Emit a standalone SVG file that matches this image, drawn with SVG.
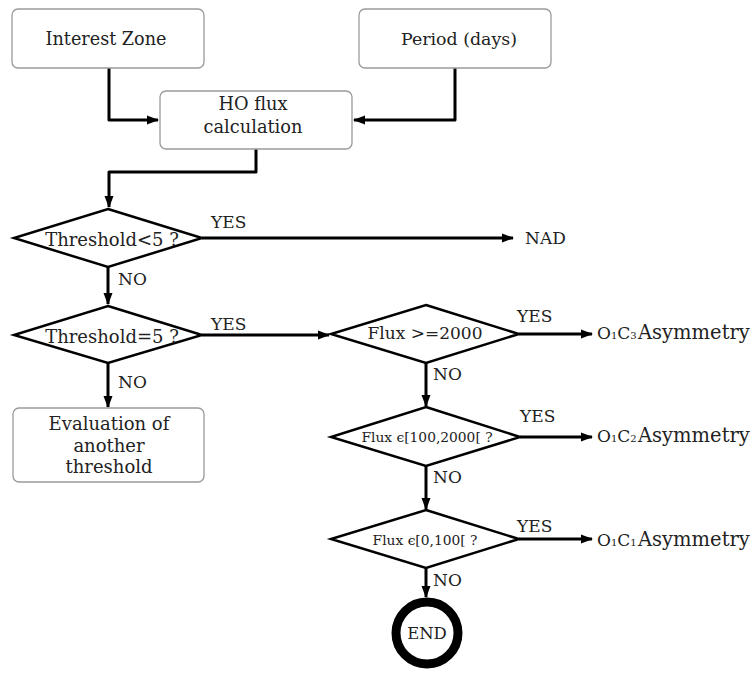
<svg xmlns="http://www.w3.org/2000/svg" width="752" height="673" viewBox="0 0 752 673">
<defs>
<style>
.box{fill:#fff;stroke:#9a9a9a;stroke-width:1.3}
.dia{fill:#fff;stroke:#000;stroke-width:2.5;stroke-linejoin:miter}
.t{font-family:"DejaVu Serif","Liberation Serif",serif;fill:#222;text-anchor:middle}
.lbl{font-family:"DejaVu Serif","Liberation Serif",serif;fill:#222;font-size:17px}
.con{fill:none;stroke:#000;stroke-width:3;stroke-linejoin:round}
</style>
<marker id="ah" markerUnits="userSpaceOnUse" markerWidth="12" markerHeight="10" refX="11" refY="5" orient="auto">
<path d="M0,0.5 L12,5 L0,9.5 z" fill="#000"/>
</marker>
</defs>
<rect width="752" height="673" fill="#fff"/>

<g id="connectors">
<path class="con" d="M109,68 V120 H158" marker-end="url(#ah)"/>
<path class="con" d="M455,68 V120 H354" marker-end="url(#ah)"/>
<path class="con" d="M256,149 V172 H109 V207" marker-end="url(#ah)"/>
<path class="con" d="M202,238 H513" marker-end="url(#ah)"/>
<path class="con" d="M108,267 V304" marker-end="url(#ah)"/>
<path class="con" d="M202,335 H329" marker-end="url(#ah)"/>
<path class="con" d="M108,363 V407" marker-end="url(#ah)"/>
<path class="con" d="M519,334 H592" marker-end="url(#ah)"/>
<path class="con" d="M426,363 V406" marker-end="url(#ah)"/>
<path class="con" d="M520,437 H592" marker-end="url(#ah)"/>
<path class="con" d="M426,466 V509" marker-end="url(#ah)"/>
<path class="con" d="M519,539 H592" marker-end="url(#ah)"/>
<path class="con" d="M426,568 V597" marker-end="url(#ah)"/>
<text class="lbl" x="211" y="228">YES</text>
<text class="lbl" x="118" y="285">NO</text>
<text class="lbl" x="211" y="330">YES</text>
<text class="lbl" x="118" y="388">NO</text>
<text class="lbl" x="517" y="322">YES</text>
<text class="lbl" x="433" y="380">NO</text>
<text class="lbl" x="520" y="422">YES</text>
<text class="lbl" x="433" y="483">NO</text>
<text class="lbl" x="517" y="532">YES</text>
<text class="lbl" x="433" y="586">NO</text>
</g>

<g id="interest-zone">
<rect class="box" x="12" y="9" width="192" height="59" rx="6"/>
<text class="t" x="106" y="45" font-size="17.6">Interest Zone</text>
</g>

<g id="period">
<rect class="box" x="359" y="9" width="192" height="59" rx="6"/>
<text class="t" x="459" y="45" font-size="17.4">Period (days)</text>
</g>

<g id="ho-flux">
<rect class="box" x="160" y="91" width="192" height="58" rx="6"/>
<text class="t" x="253" y="110" font-size="17.8">HO flux</text>
<text class="t" x="253" y="133" font-size="17.8">calculation</text>
</g>

<g id="threshold-lt5">
<polygon class="dia" points="108,209 202,238 108,267 14,238"/>
<text class="t" x="112" y="246" font-size="18">Threshold&lt;5 ?</text>
</g>

<g id="nad">
<text class="lbl" x="525" y="244">NAD</text>
</g>

<g id="threshold-eq5">
<polygon class="dia" points="108,306 202,335 108,363 14,335"/>
<text class="t" x="112" y="343" font-size="18">Threshold=5 ?</text>
</g>

<g id="evaluation">
<rect class="box" x="13" y="408" width="191" height="74" rx="6"/>
<text class="t" x="109" y="430" font-size="18">Evaluation of</text>
<text class="t" x="109" y="452" font-size="18">another</text>
<text class="t" x="109" y="473" font-size="18">threshold</text>
</g>

<g id="flux-ge2000">
<polygon class="dia" points="426,305 519,334 426,363 331,334"/>
<text class="t" x="425" y="339" font-size="17">Flux &gt;=2000</text>
</g>

<g id="o1c3">
<text class="lbl" x="597" y="339" font-size="14.5">O<tspan font-size="10">1</tspan>C<tspan font-size="10">3</tspan><tspan x="638" font-size="19.5">Asymmetry</tspan></text>
</g>

<g id="flux-100-2000">
<polygon class="dia" points="426,407 520,437 426,466 331,437"/>
<text class="t" x="427" y="442" font-size="13.8">Flux ϵ[100,2000[ ?</text>
</g>

<g id="o1c2">
<text class="lbl" x="597" y="442" font-size="14.5">O<tspan font-size="10">1</tspan>C<tspan font-size="10">2</tspan><tspan x="638" font-size="19.5">Asymmetry</tspan></text>
</g>

<g id="flux-0-100">
<polygon class="dia" points="426,510 519,539 426,568 331,539"/>
<text class="t" x="425" y="545" font-size="13.8">Flux ϵ[0,100[ ?</text>
</g>

<g id="o1c1">
<text class="lbl" x="597" y="546" font-size="14.5">O<tspan font-size="10">1</tspan>C<tspan font-size="10">1</tspan><tspan x="638" font-size="19.5">Asymmetry</tspan></text>
</g>

<g id="end">
<circle cx="427" cy="633" r="31" fill="#fff" stroke="#000" stroke-width="9"/>
<text class="t" x="427" y="639" font-size="16.5">END</text>
</g>
</svg>
